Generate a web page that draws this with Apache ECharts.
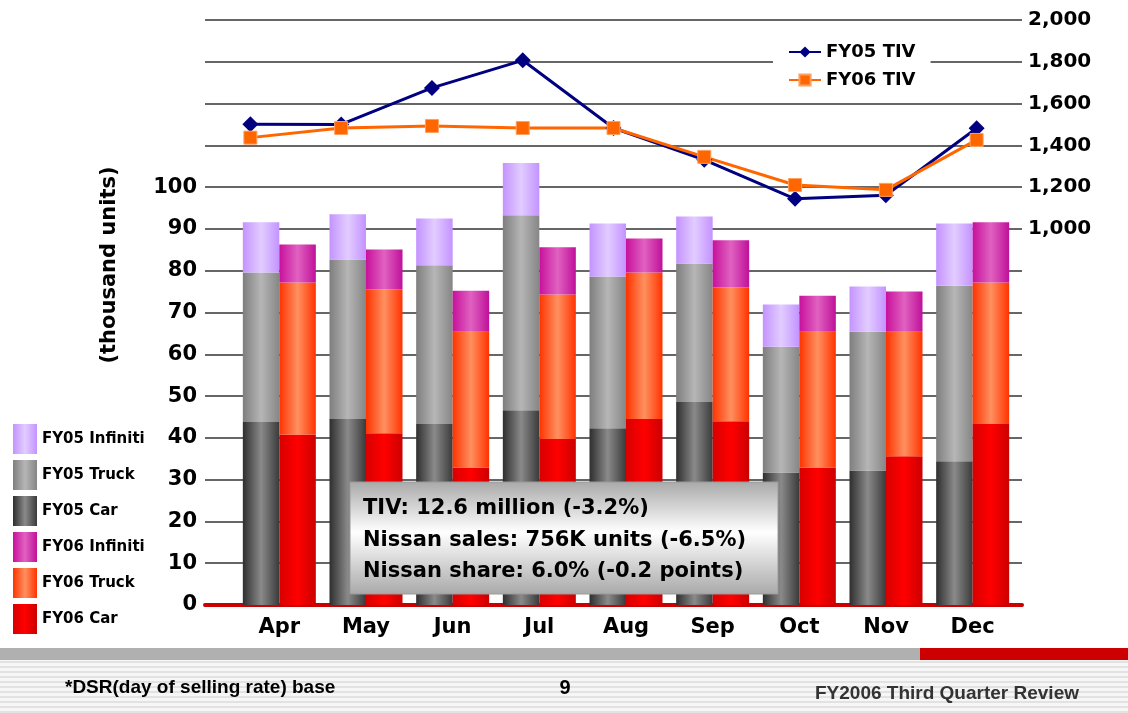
<!DOCTYPE html>
<html>
<head>
<meta charset="utf-8">
<script src="https://cdn.jsdelivr.net/npm/echarts@6/dist/echarts.min.js"></script>
<style>
  html, body { margin: 0; padding: 0; background: #fff; }
  #chart { width: 1128px; height: 713px; }
</style>
</head>
<body>
<div id="chart"></div>
<script>
// months
var months = ["Apr", "May", "Jun", "Jul", "Aug", "Sep", "Oct", "Nov", "Dec"];

// thousand units, stacked segments
var fy05Car = [43.8, 44.5, 43.3, 46.6, 42.3, 48.6, 31.7, 32.2, 34.4];
var fy05Truck = [35.8, 38.2, 38.0, 46.7, 36.3, 33.1, 30.1, 33.2, 42.0];
var fy05Infiniti = [12.0, 10.8, 11.2, 12.5, 12.7, 11.3, 10.1, 10.8, 14.9];
var fy06Car = [40.8, 41.1, 32.9, 39.7, 44.5, 44.0, 32.9, 35.6, 43.3];
var fy06Truck = [36.4, 34.4, 32.5, 34.6, 35.1, 32.0, 32.5, 29.8, 33.9];
var fy06Infiniti = [9.1, 9.6, 9.8, 11.3, 8.1, 11.3, 8.6, 9.6, 14.4];

// TIV (right axis)
var fy05Tiv = [1501, 1500, 1675, 1807, 1483, 1331, 1144, 1161, 1482];
var fy06Tiv = [1437, 1483, 1493, 1483, 1483, 1345, 1210, 1187, 1426];

var noteLines = [
  "TIV: 12.6 million (-3.2%)",
  "Nissan sales: 756K units (-6.5%)",
  "Nissan share: 6.0% (-0.2 points)"
];

var FONT = "'DejaVu Sans', 'Liberation Sans', sans-serif";
var FOOT_FONT = "'Liberation Sans', Arial, sans-serif";

function hGrad(edge, mid, edge2) {
  return new echarts.graphic.LinearGradient(0, 0, 1, 0, [
    { offset: 0, color: edge },
    { offset: 0.5, color: mid },
    { offset: 1, color: edge2 || edge }
  ]);
}

function barSeries(name, stack, data, color) {
  return {
    name: name,
    type: "bar",
    stack: stack,
    xAxisIndex: 0,
    yAxisIndex: 0,
    barWidth: 36.5,
    barGap: "0%",
    data: data,
    itemStyle: { color: color },
    emphasis: { disabled: true }
  };
}

function noteText(i, y) {
  return {
    type: "text", x: 363, y: y, z: 101,
    style: { text: noteLines[i], fontFamily: FONT, fontWeight: "bold", fontSize: 21, fill: "#000", verticalAlign: "middle" }
  };
}

var myChart = echarts.init(document.getElementById("chart"));

// footer stripes
var footer = [
  { type: "rect", z: 90, shape: { x: 0, y: 660, width: 1128, height: 53 }, style: { fill: "#f6f6f6" } }
];
for (var y = 661; y < 713; y += 5) {
  footer.push({
    type: "rect", z: 91,
    shape: { x: 0, y: y, width: 1128, height: 2 },
    style: { fill: "#e2e2e2" }
  });
}
footer.push(
  { type: "rect", z: 92, shape: { x: 0, y: 648, width: 920, height: 12 }, style: { fill: "#b0b0b0" } },
  { type: "rect", z: 92, shape: { x: 920, y: 648, width: 208, height: 12 }, style: { fill: "#cc0000" } },
  {
    type: "text", x: 65, y: 688, z: 93,
    style: { text: "*DSR(day of selling rate) base", fontFamily: FOOT_FONT, fontWeight: "bold", fontSize: 19, fill: "#000", verticalAlign: "middle" }
  },
  {
    type: "text", x: 565, y: 688, z: 93,
    style: { text: "9", fontFamily: FOOT_FONT, fontWeight: "bold", fontSize: 20, fill: "#000", align: "center", verticalAlign: "middle" }
  },
  {
    type: "text", x: 815, y: 694, z: 93,
    style: { text: "FY2006 Third Quarter Review", fontFamily: FOOT_FONT, fontWeight: "bold", fontSize: 19, fill: "#333", verticalAlign: "middle" }
  }
);

var option = {
  animation: false,
  textStyle: { fontFamily: FONT },
  grid: [
    { left: 236, right: 112, top: 20, bottom: 108 },
    { left: 205, right: 106, top: 20, bottom: 108 }
  ],
  legend: [
    {
      data: ["FY05 Infiniti", "FY05 Truck", "FY05 Car", "FY06 Infiniti", "FY06 Truck", "FY06 Car"],
      orient: "vertical",
      left: 8,
      top: 419,
      itemWidth: 24,
      itemHeight: 30,
      itemGap: 6,
      icon: "rect",
      selectedMode: false,
      textStyle: { fontFamily: FONT, fontWeight: "bold", fontSize: 15, color: "#000" }
    },
    {
      data: ["FY05 TIV", "FY06 TIV"],
      orient: "vertical",
      left: 773,
      top: 37,
      itemWidth: 32,
      itemHeight: 14,
      itemGap: 6,
      padding: [4, 15, 4, 15],
      backgroundColor: "#fff",
      selectedMode: false,
      textStyle: { fontFamily: FONT, fontWeight: "bold", fontSize: 18, lineHeight: 22, color: "#000" }
    }
  ],
  xAxis: [
    {
      type: "category",
      gridIndex: 0,
      data: months,
      axisLine: { show: false },
      axisTick: { show: false },
      axisLabel: { fontFamily: FONT, fontWeight: "bold", fontSize: 21, color: "#000", margin: 12 }
    },
    {
      type: "category",
      gridIndex: 1,
      data: months,
      axisLine: { show: true, lineStyle: { color: "#cc0000", width: 4 } },
      axisTick: { show: false },
      axisLabel: { show: false }
    }
  ],
  yAxis: [
    {
      type: "value",
      gridIndex: 0,
      min: 0,
      max: 140,
      interval: 10,
      show: false,
      splitLine: { show: false }
    },
    {
      type: "value",
      gridIndex: 1,
      position: "left",
      min: 0,
      max: 140,
      interval: 10,
      axisLine: { show: false },
      axisTick: { show: false },
      splitLine: { show: true, lineStyle: { color: "#333", width: 1.5 } },
      axisLabel: {
        fontFamily: FONT, fontWeight: "bold", fontSize: 21, color: "#000", margin: 8,
        formatter: function (v) { return v <= 100 ? v : ""; }
      }
    },
    {
      type: "value",
      gridIndex: 1,
      position: "right",
      min: -800,
      max: 2000,
      interval: 200,
      axisLine: { show: false },
      axisTick: { show: false },
      splitLine: { show: false },
      axisLabel: {
        fontFamily: FONT, fontWeight: "bold", fontSize: 20, color: "#000", margin: 6,
        formatter: function (v) { return v >= 1000 ? v.toLocaleString("en-US") : ""; }
      }
    }
  ],
  series: [
    barSeries("FY05 Car", "fy05", fy05Car, hGrad("#2e2e2e", "#8a8a8a", "#3a3a3a")),
    barSeries("FY05 Truck", "fy05", fy05Truck, hGrad("#7e7e7e", "#b6b6b6", "#868686")),
    barSeries("FY05 Infiniti", "fy05", fy05Infiniti, hGrad("#c493ff", "#e2ccff", "#c493ff")),
    barSeries("FY06 Car", "fy06", fy06Car, hGrad("#d80000", "#ff0000", "#cc0000")),
    barSeries("FY06 Truck", "fy06", fy06Truck, hGrad("#ff3300", "#ff9060", "#ff3300")),
    barSeries("FY06 Infiniti", "fy06", fy06Infiniti, hGrad("#c8109c", "#e062c0", "#c0109a")),
    {
      name: "FY05 TIV",
      type: "line",
      xAxisIndex: 1,
      yAxisIndex: 2,
      data: fy05Tiv,
      symbol: "diamond",
      symbolSize: 16,
      lineStyle: { color: "#000080", width: 3 },
      itemStyle: { color: "#000080" },
      emphasis: { disabled: true }
    },
    {
      name: "FY06 TIV",
      type: "line",
      xAxisIndex: 1,
      yAxisIndex: 2,
      data: fy06Tiv,
      symbol: "rect",
      symbolSize: 13,
      lineStyle: { color: "#ff6600", width: 3 },
      itemStyle: { color: "#ff6600", borderColor: "#ffa060", borderWidth: 1 },
      emphasis: { disabled: true }
    }
  ],
  graphic: [
    {
      type: "text",
      x: 110,
      y: 265,
      rotation: Math.PI / 2,
      style: {
        text: "(thousand units)",
        fontFamily: FONT, fontWeight: "bold", fontSize: 21, fill: "#000",
        align: "center", verticalAlign: "middle"
      }
    },
    {
      type: "rect",
      z: 100,
      shape: { x: 350, y: 482, width: 428, height: 112 },
      style: {
        fill: new echarts.graphic.LinearGradient(0, 0, 0, 1, [
          { offset: 0, color: "#a9a9a9" },
          { offset: 0.45, color: "#ffffff" },
          { offset: 1, color: "#a9a9a9" }
        ]),
        stroke: "#9a9a9a",
        lineWidth: 1
      }
    },
    noteText(0, 509),
    noteText(1, 541),
    noteText(2, 572)
  ].concat(footer)
};

option && myChart.setOption(option);
</script>
</body>
</html>
